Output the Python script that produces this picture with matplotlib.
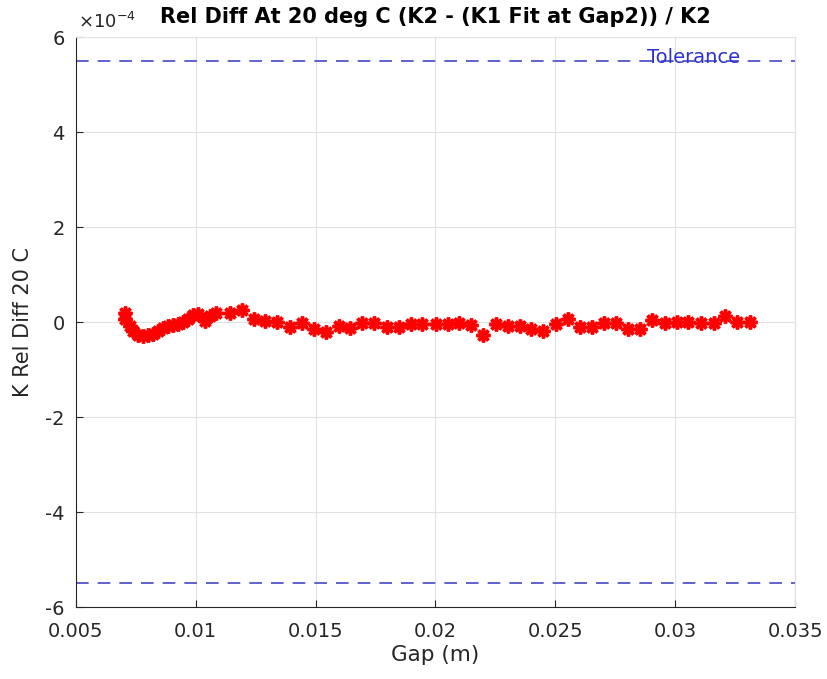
import matplotlib
matplotlib.use("Agg")
import matplotlib.pyplot as plt
import numpy as np

plt.rcParams['font.family'] = ['DejaVu Sans']

gap = [0.00705, 0.00707, 0.00726, 0.0074, 0.0076, 0.00782, 0.00803, 0.00823,
       0.00844, 0.00865, 0.00886, 0.00907, 0.00928, 0.00949, 0.0097, 0.00991,
       0.01012, 0.0104, 0.0106, 0.01086, 0.01144, 0.01193, 0.01242, 0.01291,
       0.0134, 0.01395, 0.01444, 0.01493, 0.01542, 0.01597, 0.01643, 0.01695,
       0.01744, 0.018, 0.01849, 0.01897, 0.01946, 0.02002, 0.02051, 0.021,
       0.02149, 0.02197, 0.02253, 0.02302, 0.02351, 0.024, 0.02448, 0.02504,
       0.02553, 0.02602, 0.02653, 0.02704, 0.02755, 0.02804, 0.02853, 0.02905,
       0.02957, 0.03006, 0.03055, 0.03108, 0.0316, 0.03208, 0.03257, 0.03313]
rel_diff_e4 = [0.19, 0.07, -0.09, -0.19, -0.28, -0.30, -0.28, -0.26,
               -0.19, -0.12, -0.09, -0.07, -0.05, 0.0, 0.07, 0.14,
               0.16, 0.02, 0.12, 0.18, 0.18, 0.26, 0.07, 0.03,
               0.0, -0.1, -0.02, -0.14, -0.21, -0.09, -0.13, -0.02,
               -0.02, -0.1, -0.1, -0.05, -0.05, -0.05, -0.05, -0.02,
               -0.07, -0.28, -0.05, -0.09, -0.09, -0.14, -0.19, -0.05,
               0.07, -0.1, -0.1, -0.02, -0.02, -0.14, -0.14, 0.05,
               -0.02, 0.0, 0.0, -0.03, -0.03, 0.12, 0.0, 0.0]
tolerance = 5.5e-4

rel_diff = np.array(rel_diff_e4) * 1e-4

fig = plt.figure(figsize=(8.27, 6.79), dpi=100)
ax = fig.add_axes([0.0915, 0.106, 0.870, 0.8395])

grid_c = '#e0e0e0'
ax.grid(True, color=grid_c, linewidth=0.8)
ax.set_axisbelow(True)

ax.axhline(tolerance, color='#5555cc', linestyle=(0, (7, 5)), linewidth=1.3)
ax.axhline(-tolerance, color='#5555cc', linestyle=(0, (7, 5)), linewidth=1.3)
ax.text(0.03077, tolerance - 0.05e-4, 'Tolerance', color='#3030d0', fontsize=14,
        ha='center', va='baseline')

ax.plot(gap, rel_diff, linestyle='none', marker=(8, 2, 0), color='red',
        markersize=10, markeredgewidth=2.5)

ax.set_xlim(0.005, 0.035)
ax.set_ylim(-6e-4, 6e-4)
ax.set_xticks([0.005, 0.01, 0.015, 0.02, 0.025, 0.03, 0.035])
ax.set_xticklabels(['0.005', '0.01', '0.015', '0.02', '0.025', '0.03', '0.035'])
yt = np.arange(-6, 7, 2)
ax.set_yticks(yt * 1e-4)
ax.set_yticklabels([str(v) for v in yt])

for s in ['top', 'right']:
    ax.spines[s].set_color(grid_c)
for s in ['left', 'bottom']:
    ax.spines[s].set_color('#262626')
ax.tick_params(direction='in', colors='#262626', labelsize=14, length=5,
               top=False, right=False)
ax.tick_params(axis='x', pad=11)
ax.tick_params(axis='y', pad=8)

ax.set_xlabel('Gap (m)', fontsize=15.5, color='#262626', labelpad=3)
ax.set_ylabel('K Rel Diff 20 C', fontsize=15, color='#262626', labelpad=9)
ax.set_title('Rel Diff At 20 deg C (K2 - (K1 Fit at Gap2)) / K2', fontsize=15,
             fontweight='bold', color='black', pad=10)
ax.text(0.003, 1.008, r'$\times 10^{-4}$', transform=ax.transAxes, fontsize=13,
        color='#262626', ha='left', va='bottom')

fig.savefig('out.png', dpi=100)
